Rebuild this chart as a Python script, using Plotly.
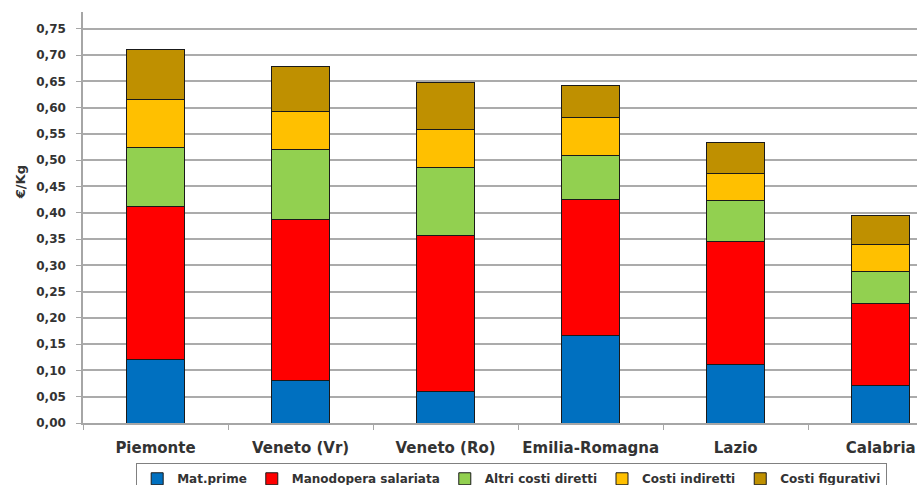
import plotly.graph_objects as go

regions = ["Piemonte", "Veneto (Vr)", "Veneto (Ro)", "Emilia-Romagna", "Lazio", "Calabria"]
series_names = ["Mat.prime", "Manodopera salariata", "Altri costi diretti", "Costi indiretti", "Costi figurativi"]
mat_prime = [0.121, 0.081, 0.059, 0.167, 0.111, 0.072]
manodopera = [0.290, 0.307, 0.298, 0.259, 0.234, 0.155]
altri_diretti = [0.113, 0.132, 0.129, 0.083, 0.078, 0.061]
costi_indiretti = [0.092, 0.072, 0.072, 0.072, 0.052, 0.052]
costi_figurativi = [0.095, 0.086, 0.089, 0.062, 0.059, 0.055]
colors = ["#0070C0", "#FF0000", "#92D050", "#FFC000", "#BF9000"]
y_ticks = [0.00, 0.05, 0.10, 0.15, 0.20, 0.25, 0.30, 0.35, 0.40, 0.45, 0.50, 0.55, 0.60, 0.65, 0.70, 0.75]
y_title = "€/Kg"

values = [mat_prime, manodopera, altri_diretti, costi_indiretti, costi_figurativi]

fig = go.Figure()
for name, vals, col in zip(series_names, values, colors):
    fig.add_trace(go.Bar(
        x=regions, y=vals, name=name,
        marker=dict(color=col, line=dict(color="#1a1a1a", width=1)),
        width=0.4,
    ))

ff = "DejaVu Sans"
txt = "#333333"
fig.update_layout(
    width=917, height=485,
    barmode="stack",
    separators=",.",
    plot_bgcolor="white", paper_bgcolor="white",
    margin=dict(l=83, r=0, t=12, b=62, autoexpand=False),
    font=dict(family=ff, color=txt),
    showlegend=True,
    legend=dict(
        orientation="h",
        x=0.514, xanchor="center",
        y=-0.098, yanchor="top",
        bgcolor="white",
        bordercolor="#808080", borderwidth=1,
        font=dict(size=12, family=ff, weight="bold", color=txt),
        traceorder="normal",
    ),
    annotations=[dict(
        text=y_title, xref="paper", yref="paper",
        x=-0.0755, y=0.586, textangle=-90, showarrow=False,
        xanchor="center", yanchor="middle",
        font=dict(size=13, family=ff, weight="bold", color=txt),
    )],
)
fig.update_xaxes(
    range=[-0.5, 5.25],
    automargin=False,
    showline=True, linecolor="#a6a6a6", linewidth=1.5,
    ticks="outside", tickson="boundaries", ticklen=5, tickcolor="#a6a6a6",
    tickangle=0,
    ticklabelstandoff=10,
    tickfont=dict(size=15, family=ff, weight="bold", color=txt),
    showgrid=False,
)
fig.update_yaxes(
    range=[0, 0.782],
    automargin=False,
    tickvals=y_ticks, tickformat=".2f",
    showline=True, linecolor="#a6a6a6", linewidth=1.5,
    ticks="outside", ticklen=5, tickcolor="#a6a6a6",
    ticklabelstandoff=8,
    showgrid=True, gridcolor="#ababab", gridwidth=1.5,
    tickfont=dict(size=12, family=ff, weight="bold", color=txt),
    zeroline=False,
)

fig.write_html(
    "out.html",
    config={"displayModeBar": False},
    post_script="document.body.style.margin='0';document.body.style.overflow='hidden';",
)
